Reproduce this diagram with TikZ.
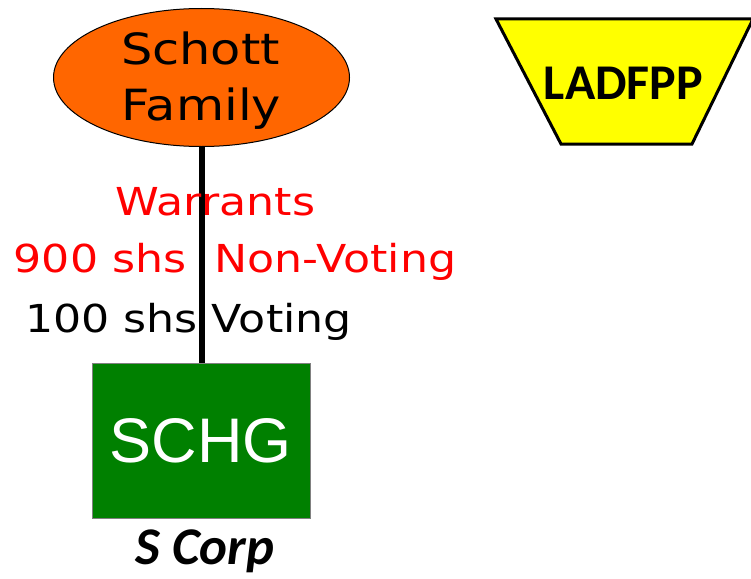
\documentclass[tikz,border=0pt]{standalone}
\usepackage{fontspec}
\setmainfont{DejaVu Sans}
\newfontfamily\vfont{DejaVu Sans}[FakeStretch=1.15]
\newfontfamily\afont{Liberation Sans}
\newfontfamily\cfont{Carlito}
\usetikzlibrary{shapes.geometric}
\definecolor{orng}{RGB}{255,102,0}
\definecolor{grn}{RGB}{0,128,0}
\definecolor{rd}{RGB}{255,0,0}
\definecolor{yel}{RGB}{255,255,0}
\begin{document}
\begin{tikzpicture}[x=1pt,y=-1pt,
  lbl/.style={inner sep=0, anchor=base, font=\vfont\fontsize{38.5}{46}\selectfont},
  bigl/.style={inner sep=0, anchor=base, font=\vfont\fontsize{43}{50}\selectfont}]
\useasboundingbox (0,0) rectangle (751,578);
% shapes
\node[ellipse, draw=black, line width=1, fill=orng, minimum width=296, minimum height=138, inner sep=0] (schott) at (201.5,77.5) {};
\node[rectangle, draw=gray, line width=1, fill=grn, minimum width=218, minimum height=155, inner sep=0] (schg) at (201.5,441) {};
\draw[line width=6] (schott) -- (schg);
\draw[line width=3, fill=yel] (496,19) -- (753,19) -- (692,144) -- (561,144) -- cycle;
% texts
\node[bigl] (t1) at (200.5,64) {Schott};
\node[bigl] (t2) at (201.5,120) {Family};
\node[lbl, text=rd] (w) at (215.5,215) {Warrants};
\node[lbl, text=rd] (nv) at (235,272) {900 shs\ \ Non-Voting};
\node[lbl] (v) at (188.5,332) {100 shs Voting};
\node[inner sep=0, anchor=base, text=white, font=\afont\fontsize{63}{70}\selectfont] (s) at (200.5,462) {SCHG};
\node[inner sep=0, anchor=base, font=\cfont\bfseries\itshape\fontsize{53}{60}\selectfont] (sc) at (205,564) {S Corp};
\node[inner sep=0, anchor=base, font=\cfont\bfseries\fontsize{50}{56}\selectfont] (lad) at (623.5,99) {LADFPP};
\end{tikzpicture}
\end{document}
